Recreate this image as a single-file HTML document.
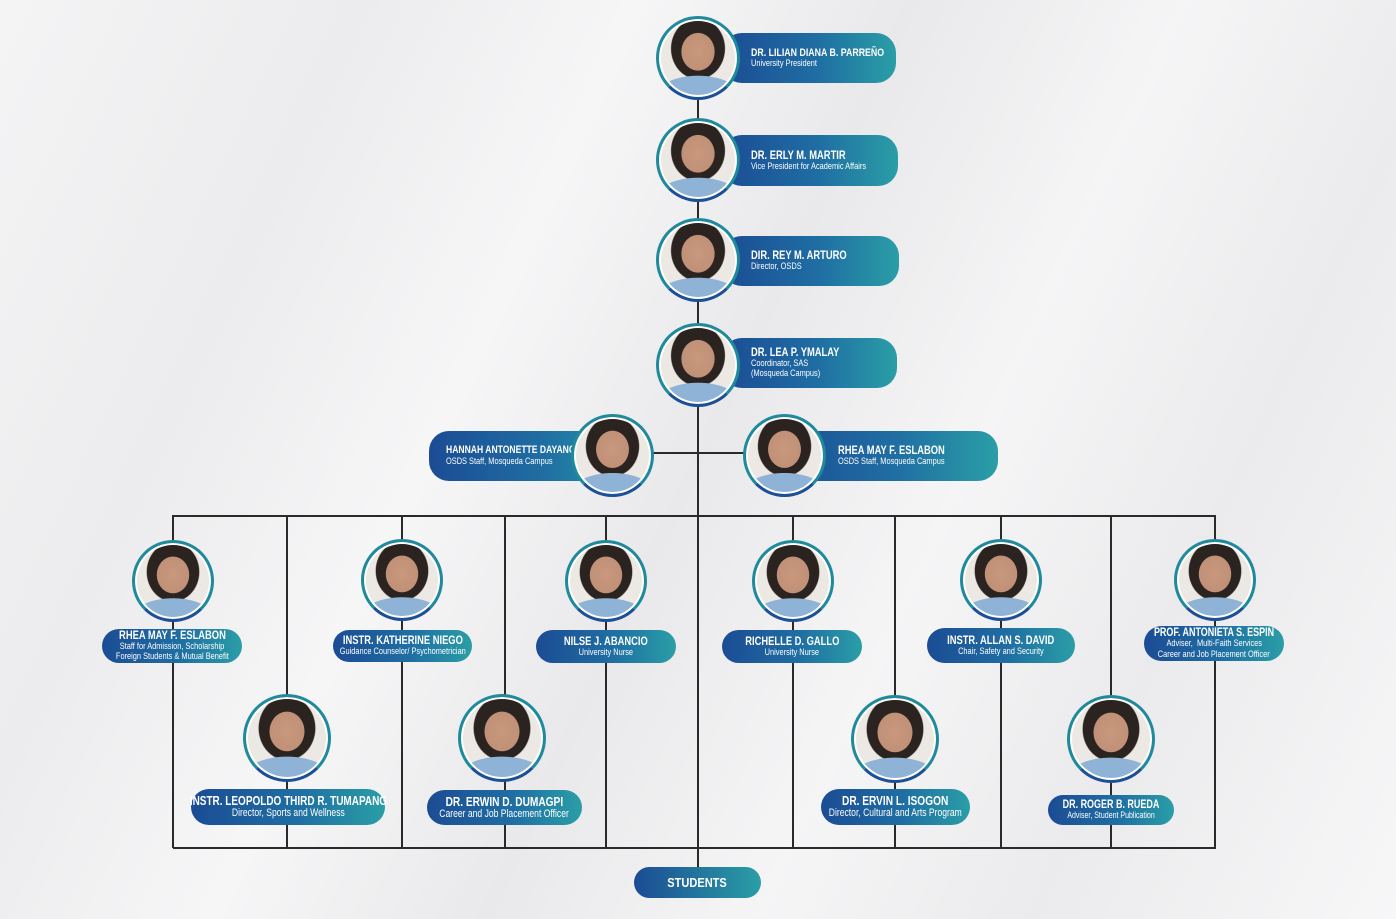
<!DOCTYPE html>
<html><head><meta charset="utf-8"><style>
*{margin:0;padding:0;box-sizing:border-box}
body{width:1396px;height:919px;overflow:hidden;position:relative;font-family:"Liberation Sans",sans-serif;
background:linear-gradient(115deg,#f4f4f5 0%,#ececee 20%,#f6f6f7 35%,#e9e9eb 50%,#f5f5f6 65%,#ebebed 80%,#f7f7f8 100%)}
.l{position:absolute;background:#2a2a2a}
.p{position:absolute;border-radius:20px;background:linear-gradient(90deg,#1b4c94 0%,#1f6ea3 55%,#2a9ea6 100%);color:#fff;display:flex;flex-direction:column;justify-content:center;line-height:1.08}
.p b,.p span{display:block;white-space:nowrap;transform:scaleX(.78);transform-origin:left center}
.p b{font-size:12px;font-weight:bold}
.p span{font-size:9.5px}
.c{align-items:center;text-align:center}
.c b,.c span{transform-origin:center center}
.rt{padding-left:29px}
.ph{position:absolute;border-radius:50%;border:3px solid #1f8a9c;border-bottom-color:#1c4f95;background:radial-gradient(ellipse 30% 34% at 50% 42%,#c9987c 0%,#c09078 70%,transparent 72%),radial-gradient(ellipse 60% 30% at 50% 100%,#8fb3d6 0%,#8fb3d6 90%,transparent 92%),radial-gradient(ellipse 40% 45% at 50% 38%,#2b2320 0%,#2b2320 85%,transparent 88%),#ece8e3;box-shadow:0 0 0 2px #fff inset}
.s{position:absolute;border-radius:18px;background:linear-gradient(90deg,#1b4c94,#2a9ea6);color:#fff;font-weight:bold;font-size:13px;display:flex;align-items:center;justify-content:center}
.s i{font-style:normal;transform:scaleX(.85)}
</style></head><body>
<div class="l" style="left:697px;top:95px;width:2px;height:772px"></div>
<div class="l" style="left:650px;top:452px;width:95px;height:2px"></div>
<div class="l" style="left:173px;top:515px;width:1043px;height:2px"></div>
<div class="l" style="left:173px;top:847px;width:1043px;height:2px"></div>
<div class="l" style="left:172px;top:515px;width:2px;height:333px"></div>
<div class="l" style="left:286px;top:515px;width:2px;height:333px"></div>
<div class="l" style="left:401px;top:515px;width:2px;height:333px"></div>
<div class="l" style="left:504px;top:515px;width:2px;height:333px"></div>
<div class="l" style="left:605px;top:515px;width:2px;height:333px"></div>
<div class="l" style="left:792px;top:515px;width:2px;height:333px"></div>
<div class="l" style="left:894px;top:515px;width:2px;height:333px"></div>
<div class="l" style="left:1000px;top:515px;width:2px;height:333px"></div>
<div class="l" style="left:1110px;top:515px;width:2px;height:333px"></div>
<div class="l" style="left:1214px;top:515px;width:2px;height:333px"></div>

<div class="p rt" style="left:722px;top:33px;width:174px;height:50px"><b style="font-size:11.3px">DR. LILIAN DIANA B. PARREÑO</b><span>University President</span></div>
<div class="ph" style="left:656px;top:16px;width:84px;height:84px"></div>
<div class="p rt" style="left:722px;top:135px;width:176px;height:51px"><b>DR. ERLY M. MARTIR</b><span>Vice President for Academic Affairs</span></div>
<div class="ph" style="left:656px;top:118px;width:84px;height:84px"></div>
<div class="p rt" style="left:722px;top:236px;width:177px;height:50px"><b>DIR. REY M. ARTURO</b><span>Director, OSDS</span></div>
<div class="ph" style="left:656px;top:218px;width:84px;height:84px"></div>
<div class="p rt" style="left:722px;top:338px;width:175px;height:50px"><b>DR. LEA P. YMALAY</b><span>Coordinator, SAS</span><span>(Mosqueda Campus)</span></div>
<div class="ph" style="left:656px;top:323px;width:84px;height:84px"></div>

<div class="p" style="left:429px;top:431px;width:210px;height:50px;padding-left:17px"><b style="font-size:11px">HANNAH ANTONETTE DAYANG</b><span>OSDS Staff, Mosqueda Campus</span></div>
<div class="ph" style="left:571px;top:414px;width:83px;height:83px"></div>
<div class="p" style="left:770px;top:431px;width:228px;height:50px;padding-left:68px"><b>RHEA MAY F. ESLABON</b><span>OSDS Staff, Mosqueda Campus</span></div>
<div class="ph" style="left:743px;top:414px;width:83px;height:83px"></div>

<div class="ph" style="left:132px;top:540px;width:82px;height:82px"></div>
<div class="p c" style="left:102px;top:629px;width:140px;height:34px"><b>RHEA MAY F. ESLABON</b><span>Staff for Admission, Scholarship</span><span>Foreign Students &amp; Mutual Benefit</span></div>
<div class="ph" style="left:361px;top:539px;width:82px;height:82px"></div>
<div class="p c" style="left:333px;top:630px;width:139px;height:32px"><b>INSTR. KATHERINE NIEGO</b><span>Guidance Counselor/ Psychometrician</span></div>
<div class="ph" style="left:565px;top:540px;width:82px;height:82px"></div>
<div class="p c" style="left:536px;top:630px;width:140px;height:33px"><b>NILSE J. ABANCIO</b><span>University Nurse</span></div>
<div class="ph" style="left:752px;top:540px;width:82px;height:82px"></div>
<div class="p c" style="left:722px;top:630px;width:140px;height:33px"><b>RICHELLE D. GALLO</b><span>University Nurse</span></div>
<div class="ph" style="left:960px;top:539px;width:82px;height:82px"></div>
<div class="p c" style="left:927px;top:628px;width:148px;height:35px"><b>INSTR. ALLAN S. DAVID</b><span>Chair, Safety and Security</span></div>
<div class="ph" style="left:1174px;top:539px;width:82px;height:82px"></div>
<div class="p c" style="left:1144px;top:626px;width:140px;height:35px"><b style="font-size:11.5px">PROF. ANTONIETA S. ESPIN</b><span>Adviser,&nbsp; Multi-Faith Services</span><span>Career and Job Placement Officer</span></div>

<div class="ph" style="left:243px;top:694px;width:88px;height:88px"></div>
<div class="p c" style="left:191px;top:789px;width:194px;height:36px"><b style="font-size:12.8px">INSTR. LEOPOLDO THIRD R. TUMAPANG</b><span style="font-size:11px">Director, Sports and Wellness</span></div>
<div class="ph" style="left:458px;top:694px;width:88px;height:88px"></div>
<div class="p c" style="left:427px;top:790px;width:155px;height:35px"><b style="font-size:13px">DR. ERWIN D. DUMAGPI</b><span style="font-size:11px">Career and Job Placement Officer</span></div>
<div class="ph" style="left:851px;top:695px;width:88px;height:88px"></div>
<div class="p c" style="left:821px;top:789px;width:149px;height:36px"><b style="font-size:13px">DR. ERVIN L. ISOGON</b><span style="font-size:11px">Director, Cultural and Arts Program</span></div>
<div class="ph" style="left:1067px;top:695px;width:88px;height:88px"></div>
<div class="p c" style="left:1048px;top:795px;width:126px;height:30px"><b style="font-size:11.5px">DR. ROGER B. RUEDA</b><span style="font-size:9px">Adviser, Student Publication</span></div>

<div class="s" style="left:634px;top:867px;width:127px;height:31px"><i>STUDENTS</i></div>
</body></html>
